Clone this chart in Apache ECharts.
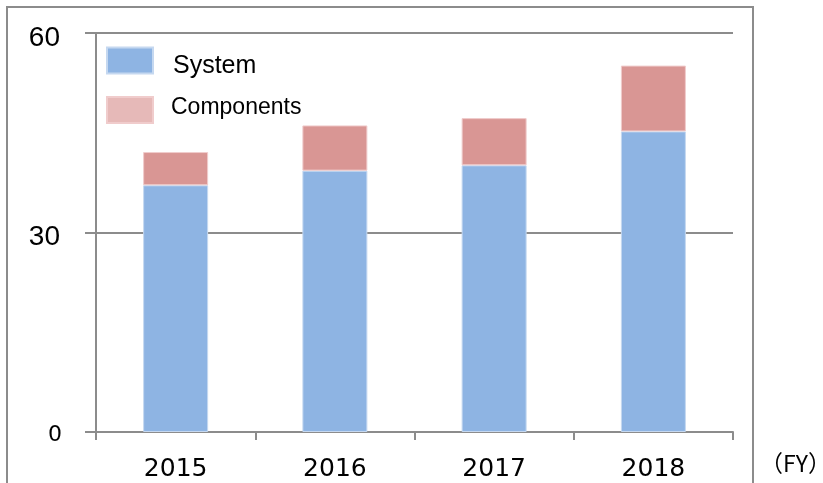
<!DOCTYPE html>
<html>
<head>
<meta charset="utf-8">
<script src="https://cdn.jsdelivr.net/npm/echarts@6/dist/echarts.min.js"></script>
<style>
  html, body { margin: 0; padding: 0; background: #fff; }
  #chart { width: 823px; height: 483px; }
</style>
</head>
<body>
<div id="chart"></div>
<script>
// Fiscal years on the category axis
const years = ['2015', '2016', '2017', '2018'];
// Stacked segments per year
const systemValues = [37.1, 39.3, 40.1, 45.2];
const componentValues = [5.0, 6.8, 7.1, 9.9];
// Value axis range and step
const yMin = 0;
const yMax = 60;
const yStep = 30;

const chart = echarts.init(document.getElementById('chart'));
const gridColor = '#8c8c8c';
const sansFont = 'Liberation Sans, Arial, sans-serif';
const wideFont = 'DejaVu Sans, Verdana, sans-serif';

// One single-entry legend per series so each row can be placed on its own;
// the label is rich text so its padding can nudge it against the swatch
function legendRow(name, color, top, fontSize, textPadding) {
  return {
    left: 106,
    top: top,
    padding: 0,
    itemWidth: 46,
    itemHeight: 26,
    icon: 'rect',
    selectedMode: false,
    data: [{ name: name, itemStyle: { color: color } }],
    formatter: function (n) { return '{t|' + n + '}'; },
    textStyle: {
      fontSize: fontSize,
      fontFamily: sansFont,
      color: '#000',
      rich: {
        t: { fontSize: fontSize, lineHeight: 26, fontFamily: sansFont, color: '#000', padding: textPadding }
      }
    }
  };
}

chart.setOption({
  animation: false,
  backgroundColor: '#ffffff',
  grid: { left: 96, right: 90, top: 33, bottom: 51 },
  legend: [
    legendRow('System', '#8EB4E3', 42, 25, [12, 0, 0, 15]),
    legendRow('Components', '#E6B9B8', 96, 23, [0, 0, 5, 13])
  ],
  xAxis: {
    type: 'category',
    data: years,
    axisLine: { lineStyle: { color: gridColor, width: 2 } },
    axisTick: { show: true, length: 8, lineStyle: { color: gridColor, width: 2 } },
    axisLabel: {
      margin: 25,
      fontSize: 25,
      fontFamily: wideFont,
      color: '#000'
    }
  },
  yAxis: {
    type: 'value',
    min: yMin,
    max: yMax,
    interval: yStep,
    axisLine: { show: true, lineStyle: { color: gridColor, width: 2 } },
    axisTick: { show: true, length: 11, lineStyle: { color: gridColor, width: 2 } },
    splitLine: { show: true, lineStyle: { color: gridColor, width: 2 } },
    axisLabel: {
      margin: 34,
      fontSize: 28,
      fontFamily: sansFont,
      color: '#000',
      formatter: function (v) {
        return v === 0 ? '{z|' + v + '}' : '{n|' + v + '}';
      },
      rich: {
        n: { fontSize: 28, fontFamily: sansFont, color: '#000', padding: [10, 2, 0, 0] },
        z: { fontSize: 22, fontFamily: wideFont, color: '#000', padding: [6, 0, 0, 0] }
      }
    }
  },
  series: [
    {
      name: 'System',
      type: 'bar',
      stack: 'total',
      barWidth: 65,
      data: systemValues,
      itemStyle: { color: '#8EB4E3', borderColor: '#c5d8f0', borderWidth: 1 }
    },
    {
      name: 'Components',
      type: 'bar',
      stack: 'total',
      barWidth: 65,
      data: componentValues,
      itemStyle: { color: '#D99694', borderColor: '#f0cccc', borderWidth: 1 }
    }
  ],
  graphic: [
    {
      type: 'rect',
      shape: { x: 7, y: 7, width: 746, height: 490 },
      style: { fill: null, stroke: '#8c8c8c', lineWidth: 2 },
      silent: true
    },
    {
      type: 'text',
      left: 760,
      top: 452,
      style: {
        text: '（FY）',
        fontSize: 23,
        fontFamily: 'Noto Sans CJK JP, sans-serif',
        fill: '#000'
      }
    }
  ]
});
</script>
</body>
</html>
